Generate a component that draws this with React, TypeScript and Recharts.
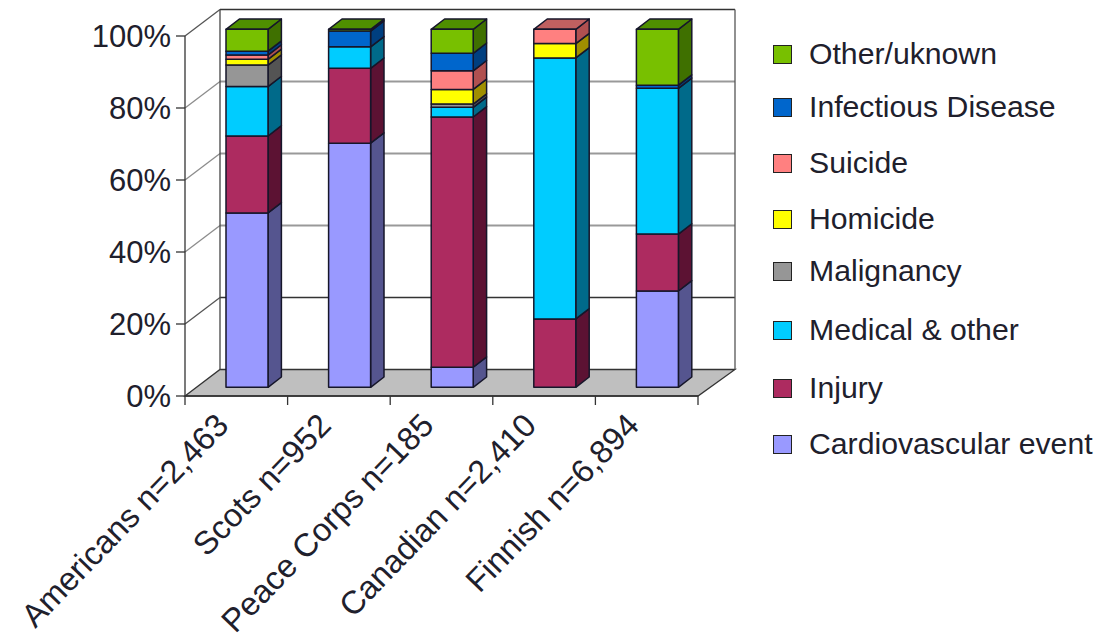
import { BarChart, Bar, XAxis, YAxis, Legend } from 'recharts'

const groups = ['Americans n=2,463', 'Scots n=952', 'Peace Corps n=185', 'Canadian n=2,410', 'Finnish n=6,894']
const cardiovascular = [48.7, 68.2, 5.6, 0, 26.9]
const injury = [21.5, 20.9, 69.9, 19.1, 15.9]
const medical = [13.8, 6.0, 2.7, 72.9, 40.7]
const malignancy = [6.0, 0, 0.9, 0, 0]
const homicide = [1.6, 0, 4.1, 4.0, 0]
const suicide = [1.2, 0, 5.2, 4.0, 0]
const infectious = [1.1, 4.4, 4.9, 0, 0.9]
const other = [6.1, 0.5, 6.7, 0, 15.6]
const yTicks = [0, 20, 40, 60, 80, 100]

const series = [
  { key: 'Cardiovascular event', values: cardiovascular, color: '#9999ff', side: '#55558f', top: '#6b6bb3' },
  { key: 'Injury', values: injury, color: '#ad2b60', side: '#5c1233', top: '#7a2048' },
  { key: 'Medical & other', values: medical, color: '#00ccff', side: '#006a8a', top: '#008fb3' },
  { key: 'Malignancy', values: malignancy, color: '#969696', side: '#545454', top: '#696969' },
  { key: 'Homicide', values: homicide, color: '#ffff00', side: '#a08f00', top: '#b3b300' },
  { key: 'Suicide', values: suicide, color: '#ff8080', side: '#b05050', top: '#c06060' },
  { key: 'Infectious Disease', values: infectious, color: '#0066cc', side: '#003f80', top: '#004a90' },
  { key: 'Other/uknown', values: other, color: '#78c000', side: '#3f7000', top: '#4f8f00' },
]

const data = groups.map((name, i) => {
  const row: Record<string, string | number> = { name }
  series.forEach((s) => { row[s.key] = s.values[i] })
  return row
})

// layout of the fake 3d box, px in the 1098x639 page
const axisX = 185
const rightX = 698
const axisTop = 36
const axisBottom = 396
const wallDx = 35
const wallDy = -26.5
const catWidth = (rightX - axisX) / groups.length
const legendY = [54, 107, 163, 219, 271, 330, 388, 444]
const font = '"Liberation Sans", Arial, sans-serif'
const textColor = '#20202c'

function Box() {
  const y0 = (t: number) => axisBottom - (t / 100) * (axisBottom - axisTop)
  return (
    <g>
      <polygon
        points={`${axisX},${axisBottom} ${axisX + wallDx},${axisBottom + wallDy} ${rightX + wallDx + 2},${axisBottom + wallDy} ${rightX},${axisBottom}`}
        fill="#bfbfbf"
        stroke="#333"
        strokeWidth={1.3}
      />
      {yTicks.slice(1).map((t) => {
        const y = y0(t)
        const dark = t === 20 || t === 100
        return (
          <g key={t}>
            <line x1={axisX} y1={y} x2={axisX + wallDx} y2={y + wallDy} stroke={dark ? '#555' : '#8c8c8c'} strokeWidth={1.3} />
            <line x1={axisX + wallDx} y1={y + wallDy} x2={rightX + wallDx + 2} y2={y + wallDy} stroke={dark ? '#333' : '#999'} strokeWidth={dark ? 1.3 : 1.8} />
          </g>
        )
      })}
      <line x1={axisX + wallDx} y1={axisTop + wallDy} x2={axisX + wallDx} y2={axisBottom + wallDy} stroke="#444" strokeWidth={1.3} />
      <line x1={rightX + wallDx + 2} y1={axisTop + wallDy} x2={rightX + wallDx + 2} y2={axisBottom + wallDy} stroke="#555" strokeWidth={1.3} />
    </g>
  )
}

function makeShape(index: number) {
  return function Bar3D(props: any) {
    const { x, y, width, height, payload, fill } = props
    if (!height || height <= 0) return null
    const s = series[index]
    const shift = (v: number) => 387.3 + (v - axisBottom) * (358 / 360)
    const left = x + 11
    const right = left + width
    const top = shift(y)
    const bottom = shift(y + height)
    const dx = 13.4
    const dy = -10.3
    const isTop = series.slice(index + 1).every((o) => !payload[o.key])
    return (
      <g stroke="#16162a" strokeWidth={1.5} strokeLinejoin="round">
        <polygon points={`${right},${top} ${right + dx},${top + dy} ${right + dx},${bottom + dy} ${right},${bottom}`} fill={s.side} />
        {isTop && <polygon points={`${left},${top} ${left + dx},${top + dy} ${right + dx},${top + dy} ${right},${top}`} fill={s.top} />}
        <rect x={left} y={top} width={width} height={bottom - top} fill={fill} />
      </g>
    )
  }
}

function GroupTick(props: any) {
  const { x, payload, index } = props
  const tx = x - 6
  const ty = axisBottom + 31
  const markX = axisX + index * catWidth
  return (
    <g>
      <line x1={markX} y1={axisBottom} x2={markX} y2={axisBottom + 9} stroke="#333" strokeWidth={1.3} />
      {index === groups.length - 1 && <line x1={rightX} y1={axisBottom} x2={rightX} y2={axisBottom + 9} stroke="#333" strokeWidth={1.3} />}
      <text x={tx} y={ty} textAnchor="end" fontFamily={font} fontSize={32.5} fill={textColor} transform={`rotate(-46 ${tx} ${ty})`}>
        {payload.value}
      </text>
    </g>
  )
}

function LegendBox() {
  return (
    <div style={{ position: 'relative', width: 335, height: 480, fontFamily: font, fontSize: 30.2, color: textColor }}>
      {[...series].reverse().map((s, i) => (
        <div key={s.key} style={{ position: 'absolute', left: 0, top: legendY[i] - 20, height: 40, lineHeight: '40px', whiteSpace: 'nowrap' }}>
          <span style={{ position: 'absolute', left: 13, top: 11, width: 17, height: 17, background: s.color, border: '1px solid #222' }} />
          <span style={{ position: 'absolute', left: 49, top: 0 }}>{s.key}</span>
        </div>
      ))}
    </div>
  )
}

export default function App() {
  return (
    <div style={{ position: 'absolute', left: 0, top: 0, width: 1098, height: 639, background: '#fff', overflow: 'hidden' }}>
      <BarChart
        width={1098}
        height={639}
        data={data}
        margin={{ top: axisTop, right: 1098 - rightX, bottom: 13, left: axisX - 100 }}
        barSize={42}
        style={{ overflow: 'hidden' }}
      >
        <Box />
        <XAxis dataKey="name" interval={0} height={230} tick={<GroupTick />} tickLine={false} axisLine={{ stroke: '#333', strokeWidth: 1.3 }} />
        <YAxis
          width={100}
          domain={[0, 100]}
          ticks={yTicks}
          tickFormatter={(v: number) => `${v}%`}
          tickSize={9}
          tickMargin={5}
          tick={{ fontFamily: font, fontSize: 31, fill: textColor }}
          tickLine={{ stroke: '#333', strokeWidth: 1.3 }}
          axisLine={{ stroke: '#333', strokeWidth: 1.3 }}
        />
        {series.map((s, i) => (
          <Bar key={s.key} dataKey={s.key} stackId="a" fill={s.color} shape={makeShape(i)} isAnimationActive={false} />
        ))}
        <Legend layout="horizontal" verticalAlign="middle" align="center" content={<LegendBox />} wrapperStyle={{ left: 760, top: 0, width: 335, bottom: 'auto' }} />
      </BarChart>
    </div>
  )
}
